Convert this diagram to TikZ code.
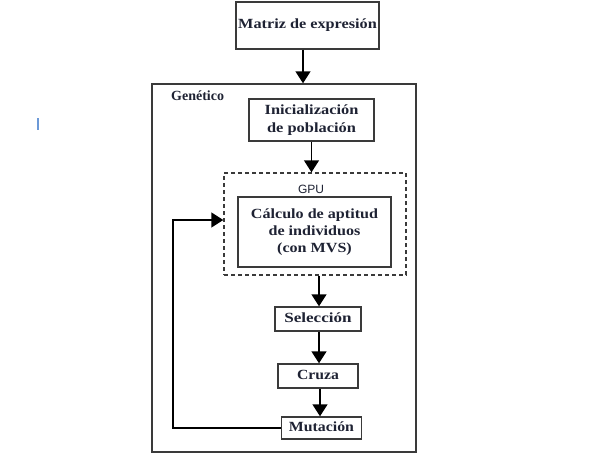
\documentclass[tikz,border=0pt]{standalone}
\usepackage{fontspec}
\setmainfont{Liberation Serif}
\newfontfamily\guisans{Liberation Sans}
\usetikzlibrary{arrows.meta}
\definecolor{ink}{HTML}{1E2233}
\definecolor{edge}{HTML}{3A3A3A}
% widened bold serif text, one or more centred lines
\newcommand\wtext[2][1.16]{\scalebox{#1}[1]{\begin{tabular}{@{}c@{}}#2\end{tabular}}}
\begin{document}
\begin{tikzpicture}[x=1pt,y=-1pt,
  box/.style={draw=edge,line width=1.4pt,inner sep=0pt,text=ink,
    font=\fontsize{14}{17.3}\selectfont\bfseries},
  flow/.style={draw=black,line width=1.4pt,-{Triangle[length=12pt,width=15pt]}},
  every node/.style={align=center}]
\useasboundingbox[fill=white] (0,0) rectangle (600,455);
% stray cursor mark
\draw[cyan!50!blue!60,line width=1.2pt] (38,118) -- (38,130);
% input matrix
\node[box,minimum width=143pt,minimum height=47pt] (mat) at (307.5,25.5) {\wtext{Matriz de expresión}};
% genetic algorithm frame
\node[draw=edge,line width=1.4pt,minimum width=264pt,minimum height=368pt,inner sep=0pt] (gen) at (284,268) {};
\node[text=ink,font=\fontsize{14}{16}\selectfont\bfseries,anchor=west,inner sep=0pt] (genl) at (171,96) {Genético};
\node[box,minimum width=125pt,minimum height=42pt] (ini) at (311.5,120) {\wtext[1.17]{Inicialización\\de población}};
% GPU region
\node[draw=edge,line width=1.4pt,dashed,dash pattern=on 4pt off 3pt,minimum width=182pt,minimum height=102pt,inner sep=0pt] (gpu) at (315,224) {};
\node[text=ink,font=\fontsize{12}{14}\selectfont\guisans] (gpul) at (311,189) {GPU};
\node[box,minimum width=153pt,minimum height=70pt] (fit) at (314.5,232) {\wtext[1.15]{Cálculo de aptitud\\de individuos\\(con MVS)}};
\node[box,minimum width=86pt,minimum height=24pt] (sel) at (318,319) {\wtext[1.22]{Selección}};
\node[box,minimum width=80pt,minimum height=24pt] (cru) at (318,376) {\wtext[1.12]{Cruza}};
\node[box,minimum width=80pt,minimum height=22pt] (mut) at (321.5,428) {\wtext[1.13]{Mutación}};
% flow
\draw[flow] (mat.south -| 303,0) -- (gen.north -| 303,0);
\draw[flow] (ini.south) -- (gpu.north -| ini.south);
\draw[flow] (gpu.south -| 319,0) -- (sel.north -| 319,0);
\draw[flow] (sel.south -| 319,0) -- (cru.north -| 319,0);
\draw[flow] (cru.south -| 320,0) -- (mut.north -| 320,0);
% feedback loop
\coordinate (loop) at (173,220);
\draw[flow] (mut.west) -| (loop) -- (gpu.west |- loop);
\end{tikzpicture}
\end{document}
